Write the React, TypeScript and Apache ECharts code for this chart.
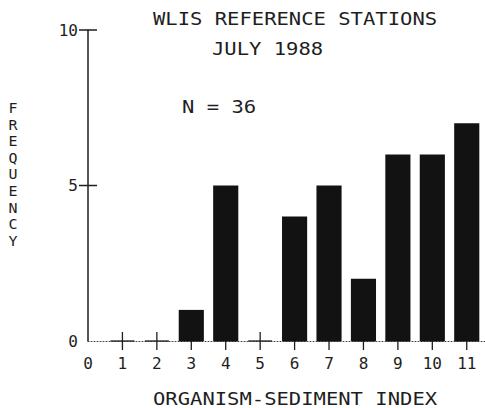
import React, { useEffect, useRef } from "react";
import * as echarts from "echarts";

const indexValues = [0, 1, 2, 3, 4, 5, 6, 7, 8, 9, 10, 11];
const frequencies = [0, 0, 0, 1, 5, 0, 4, 5, 2, 6, 6, 7];
const yTicks = [0, 5, 10];
const yCrossTicks = [5, 10];
const titleLines = ["WLIS REFERENCE STATIONS", "JULY 1988"];
const nLabel = "N = 36";
const xAxisName = "ORGANISM-SEDIMENT INDEX";
const yAxisName = "FREQUENCY";

const FONT = '"DejaVu Sans Mono", "Liberation Mono", monospace';
const INK = "#1e1e1e";

export default function App() {
  const ref = useRef<HTMLDivElement>(null);
  useEffect(() => {
    if (!ref.current) return;
    const chart = echarts.init(ref.current, null, { renderer: "svg" });
    const data = indexValues.map((x, i) => [x, frequencies[i]]);
    const yLetters = yAxisName.split("").map((ch, i) => ({
      type: "text",
      x: 13,
      y: 108 + i * 16.6,
      scaleX: 1.15,
      scaleY: 1.15,
      style: {
        text: ch,
        font: `13px ${FONT}`,
        fill: INK,
        textAlign: "center",
        textVerticalAlign: "middle",
      },
    }));
    chart.setOption({
      animation: false,
      backgroundColor: "#ffffff",
      grid: { left: 88, right: 0, top: 30, bottom: 67 },
      xAxis: {
        type: "value",
        min: 0,
        max: 11.53,
        splitLine: { show: false },
        axisLine: { show: true, lineStyle: { color: "#444", width: 1, type: [1, 2] } },
        axisTick: { show: false },
        axisLabel: {
          customValues: indexValues,
          margin: 14,
          color: INK,
          fontFamily: FONT,
          fontSize: 16,
        },
      },
      yAxis: {
        type: "value",
        min: 0,
        max: 10,
        interval: 5,
        splitLine: { show: false },
        axisLine: { show: true, lineStyle: { color: INK, width: 1.5 } },
        axisTick: { show: false },
        axisLabel: { customValues: yTicks, margin: 10, color: INK, fontFamily: FONT, fontSize: 16 },
      },
      series: [
        {
          type: "custom",
          data,
          z: 2,
          renderItem: (params: any, api: any) => {
            const x = api.value(0);
            const y = api.value(1);
            const base = api.coord([x, 0]);
            const top = api.coord([x, y]);
            const unit = api.size([1, 0])[0];
            const bw = unit * 0.73;
            const children: any[] = [];
            if (x > 0) {
              children.push({
                type: "line",
                shape: { x1: base[0] - 12, y1: base[1], x2: base[0] + 12, y2: base[1] },
                style: { stroke: INK, lineWidth: 1.3 },
              });
              children.push({
                type: "line",
                shape: { x1: base[0], y1: base[1] - 9, x2: base[0], y2: base[1] + 9 },
                style: { stroke: INK, lineWidth: 1.3 },
              });
            }
            if (y > 0) {
              children.push({
                type: "rect",
                shape: { x: top[0] - bw / 2, y: top[1], width: bw, height: base[1] - top[1] },
                style: { fill: "#121212" },
              });
            }
            return { type: "group", children };
          },
        },
        {
          type: "custom",
          data: yCrossTicks.map((v) => [0, v]),
          z: 3,
          clip: false,
          renderItem: (params: any, api: any) => {
            const p = api.coord([api.value(0), api.value(1)]);
            return {
              type: "line",
              shape: { x1: p[0] - 9, y1: p[1], x2: p[0] + 9, y2: p[1] },
              style: { stroke: INK, lineWidth: 1.5 },
            };
          },
        },
      ],
      graphic: [
        {
          type: "text",
          x: 153,
          y: 19,
          scaleX: 1.14,
          style: { text: titleLines[0], font: `18px ${FONT}`, fill: INK, textVerticalAlign: "middle" },
        },
        {
          type: "text",
          x: 212,
          y: 48.5,
          scaleX: 1.14,
          style: { text: titleLines[1], font: `18px ${FONT}`, fill: INK, textVerticalAlign: "middle" },
        },
        {
          type: "text",
          x: 182,
          y: 107,
          scaleX: 1.14,
          style: { text: nLabel, font: `18px ${FONT}`, fill: INK, textVerticalAlign: "middle" },
        },
        {
          type: "text",
          x: 153,
          y: 398.5,
          scaleX: 1.14,
          style: { text: xAxisName, font: `18px ${FONT}`, fill: INK, textVerticalAlign: "middle" },
        },
        ...yLetters,
      ],
    });
    return () => chart.dispose();
  }, []);
  return <div ref={ref} style={{ width: 485, height: 408, position: "absolute", left: 0, top: 0 }} />;
}
